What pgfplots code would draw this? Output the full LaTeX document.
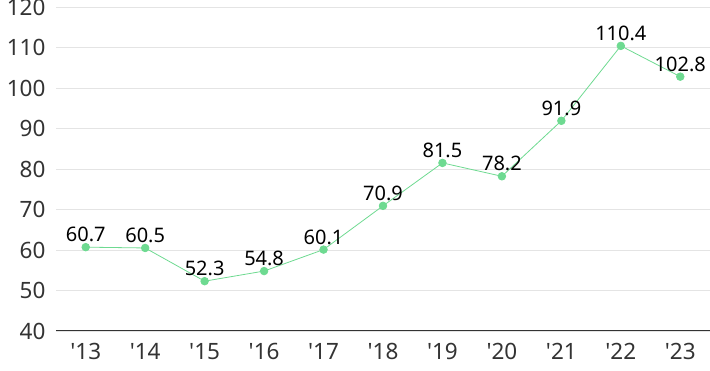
\documentclass[border=0pt]{standalone}
\usepackage{fontspec}
\setmainfont{Noto Sans}[Ligatures=TeXOff]
\usepackage{pgfplots}
\pgfplotsset{compat=1.18}
\definecolor{linegreen}{RGB}{110,218,145}
\definecolor{gridgray}{RGB}{228,228,228}
\definecolor{ticktext}{RGB}{51,51,51}
\begin{document}
\begin{tikzpicture}
\begin{axis}[
  scale only axis,
  width=654pt, height=324pt,
  xmin=-0.5, xmax=10.5,
  ymin=40, ymax=120,
  ytick={40,50,...,120},
  xtick={0,...,10},
  xticklabels={'13,'14,'15,'16,'17,'18,'19,'20,'21,'22,'23},
  major tick length=0pt,
  axis line style={draw=none},
  ymajorgrids,
  grid style={gridgray, line width=0.8pt},
  tick label style={font=\fontsize{22.5}{24}\selectfont, text=ticktext},
  /pgf/number format/assume math mode=true,
  yticklabel style={anchor=east, xshift=-7pt},
  xticklabel style={anchor=north, yshift=-9pt},
  clip=false,
  nodes near coords,
  nodes near coords style={font=\fontsize{20}{22}\selectfont, text=black, anchor=south, yshift=1.5pt},
  point meta=explicit symbolic,
]
\addplot[linegreen, line width=0.8pt, mark=*, mark size=3.8pt, mark options={fill=linegreen, draw=linegreen}]
  table[meta=label] {
x y label
0 60.7 60.7
1 60.5 60.5
2 52.3 52.3
3 54.8 54.8
4 60.1 60.1
5 70.9 70.9
6 81.5 81.5
7 78.2 78.2
8 91.9 91.9
9 110.4 110.4
10 102.8 102.8
};
\draw[ticktext, line width=1pt] (axis cs:-0.5,40) -- (axis cs:10.5,40);
\end{axis}
\pgfresetboundingbox
\path ([shift={(-56pt,-40pt)}]current axis.south west) rectangle ([shift={(0pt,7pt)}]current axis.north east);
\end{tikzpicture}
\end{document}
